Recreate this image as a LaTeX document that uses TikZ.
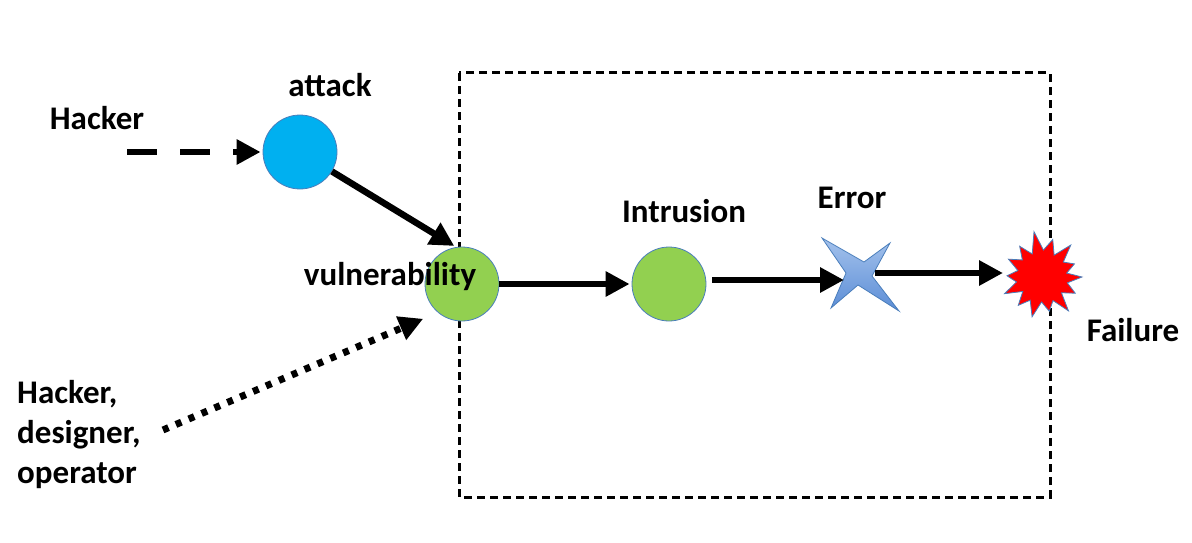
\documentclass[tikz,border=0pt]{standalone}
\usepackage{fontspec}
\setmainfont{Carlito}
\usetikzlibrary{arrows.meta}
\definecolor{attackblue}{HTML}{00B0F0}
\definecolor{vgreen}{HTML}{92D050}
\definecolor{rimblue}{HTML}{4A7EBB}
\definecolor{starlight}{HTML}{A4C2EC}
\definecolor{stardark}{HTML}{5B8DD6}
\begin{document}
\begin{tikzpicture}[x=1pt,y=-1pt,
  lbl/.style={font=\fontsize{33}{38}\selectfont\bfseries, inner sep=0pt},
  dot/.style={circle, draw=rimblue, line width=0.8pt, minimum size=74pt, inner sep=0pt},
  conn/.style={line width=6.5pt, -{Triangle[length=24pt,width=24pt]}, shorten >=2pt},
  frame/.style={line width=3pt, dash pattern=on 8pt off 5pt}]
\useasboundingbox (0,0) rectangle (1192,543);
% dashed frame
\draw[frame] (459,73) rectangle (1050,497);
% nodes
\node[dot, fill=attackblue] (attack) at (300,152) {};
\node[dot, fill=vgreen] (vuln) at (462,284) {};
\node[dot, fill=vgreen] (intr) at (669,284) {};
\coordinate (err) at (860,273);
\coordinate (fail) at (1042,277);
\coordinate (hk) at (127,152);
\coordinate (hdo) at (163,430);
% error star
\draw[rimblue, line width=0.8pt, top color=starlight, bottom color=stardark]
  ([shift={(-38,-35)}]err) -- ([shift={(4,-11)}]err) -- ([shift={(30,-30)}]err)
  -- ([shift={(12,3)}]err) -- ([shift={(39,38)}]err) -- ([shift={(-2,12)}]err)
  -- ([shift={(-29,35)}]err) -- ([shift={(-14,0)}]err) -- cycle;
% failure burst
\draw[rimblue, line width=0.8pt, fill=red, shift={(fail)}]
  (0:40) -- (13:26) -- (26:37) -- (39:25) -- (52:43) -- (65:26) -- (78:35)
  -- (91:25) -- (104:41) -- (117:26) -- (130:37) -- (143:24) -- (156:41)
  -- (169:26) -- (182:35) -- (195:25) -- (208:38) -- (221:26) -- (234:38)
  -- (247:25) -- (260:46) -- (273:27) -- (286:39) -- (299:25) -- (312:43)
  -- (325:26) -- (338:35) -- (351:25) -- cycle;
% labels
\node[lbl] (hacker) at (97,118) {Hacker};
\node[lbl] (attacklbl) at (330,85) {attack};
\node[lbl] (vulnlbl) at (390,277) {vulnerability};
\node[lbl] (intrlbl) at (684,211) {Intrusion};
\node[lbl] (errlbl) at (852,198) {Error};
\node[lbl] (faillbl) at (1133,330) {Failure};
\node[lbl, align=left, anchor=west, font=\fontsize{33}{40}\selectfont\bfseries] (hdolbl) at (17,435) {Hacker,\\designer,\\operator};
% connectors
\draw[conn, dash pattern=on 30pt off 23pt] (hk) -- (attack);
\draw[conn] (attack) -- ([shift={(-6,-37)}]vuln.center);
\draw[conn, line width=7pt, dash pattern=on 6pt off 8pt] (hdo) -- ([shift={(-37,34)}]vuln.center);
\draw[conn] (vuln) -- (intr);
\draw[conn] ([shift={(43,-4)}]intr.center) -- ([shift={(-14,7)}]err);
\draw[conn] ([shift={(15,0)}]err) -- ([shift={(-37,-4)}]fail);
\end{tikzpicture}
\end{document}
